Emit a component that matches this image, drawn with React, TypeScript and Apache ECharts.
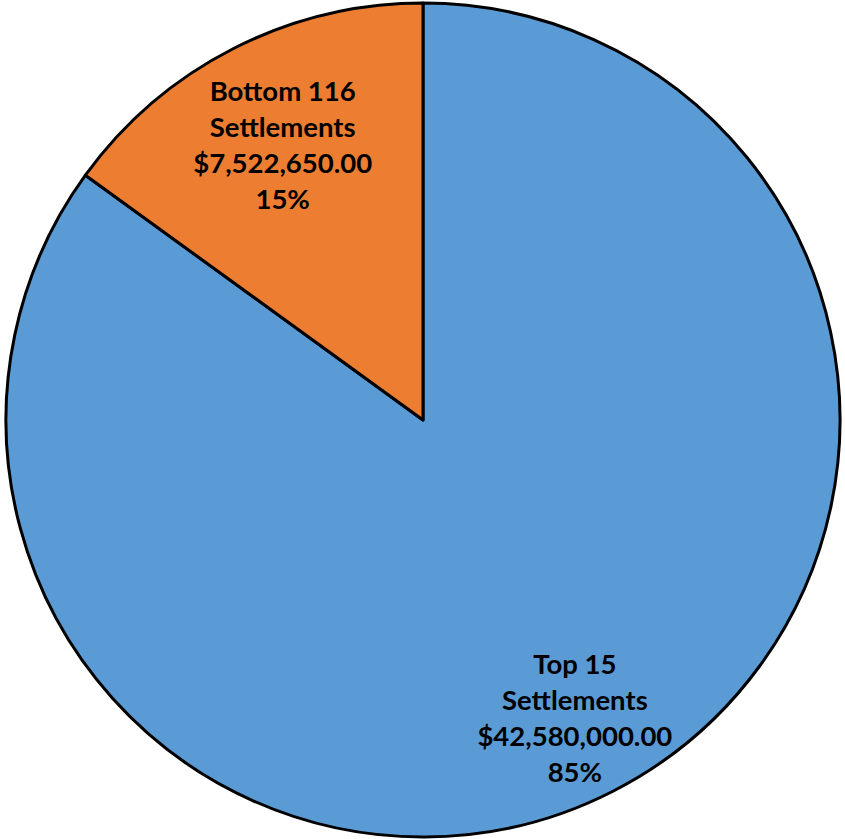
import React, { useEffect, useRef } from "react";
import * as echarts from "echarts";

const categories = ["Top 15\nSettlements", "Bottom 116\nSettlements"];
const values = [42580000.0, 7522650.0];
const percentLabels = ["85%", "15%"];
const colors = ["#5B9BD5", "#ED7D31"];

const CX = 423;
const CY = 420;
const R = 417;
const labelFactor = [1.58, 1.46];

function fmtMoney(v: number): string {
  return "$" + v.toLocaleString("en-US", { minimumFractionDigits: 2, maximumFractionDigits: 2 });
}

export default function App() {
  const ref = useRef<HTMLDivElement>(null);
  useEffect(() => {
    document.body.style.margin = "0";
    if (!ref.current) return;
    const chart = echarts.init(ref.current, null, { renderer: "svg" });
    chart.setOption({
      animation: false,
      backgroundColor: "#ffffff",
      series: [
        {
          type: "pie",
          center: [CX, CY],
          radius: [0, R],
          startAngle: 90,
          clockwise: true,
          avoidLabelOverlap: false,
          itemStyle: { borderColor: "#000000", borderWidth: 3, borderJoin: "round" },
          label: {
            show: true,
            position: "inside",
            color: "#000000",
            fontFamily: "Lato",
            fontWeight: "bold",
            fontSize: 27.5,
            lineHeight: 36,
            align: "center",
            formatter: (p: any) => `${categories[p.dataIndex]}\n${fmtMoney(values[p.dataIndex])}\n${percentLabels[p.dataIndex]}`,
          },
          labelLine: { show: false },
          labelLayout: (p: any) => {
            const lx = p.labelRect.x + p.labelRect.width / 2;
            const ly = p.labelRect.y + p.labelRect.height / 2;
            const f = labelFactor[p.dataIndex];
            return { x: CX + (lx - CX) * f, y: CY + (ly - CY) * f, align: "center", verticalAlign: "middle" };
          },
          data: categories.map((c, i) => ({
            name: c,
            value: values[i],
            itemStyle: { color: colors[i] },
          })),
        },
      ],
    });
    return () => chart.dispose();
  }, []);
  return <div ref={ref} style={{ width: 845, height: 839 }} />;
}
